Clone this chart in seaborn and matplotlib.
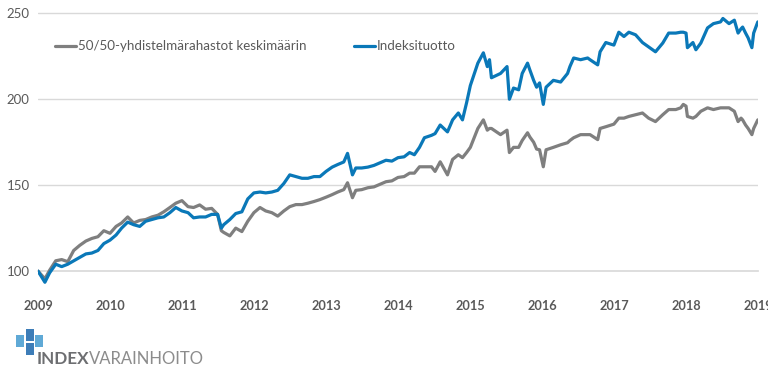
import pandas as pd
import seaborn as sns
import matplotlib.pyplot as plt
import matplotlib.dates as mdates
from matplotlib.patches import Rectangle

# values (index, start = 100)
dates = ['2009-01-01', '2009-02-05', '2009-03-01', '2009-04-01', '2009-05-01', '2009-06-01',
         '2009-07-01', '2009-08-01', '2009-09-01', '2009-10-01', '2009-11-01', '2009-12-01',
         '2010-01-01', '2010-02-01', '2010-03-01', '2010-04-01', '2010-05-01', '2010-06-01',
         '2010-07-01', '2010-08-01', '2010-09-01', '2010-10-01', '2010-11-01', '2010-12-01',
         '2011-01-01', '2011-02-01', '2011-03-01', '2011-04-01', '2011-05-01', '2011-06-01',
         '2011-07-01', '2011-07-20', '2011-08-01', '2011-09-01', '2011-10-01', '2011-11-01',
         '2011-12-01', '2012-01-01', '2012-02-01', '2012-03-01', '2012-04-01', '2012-05-01',
         '2012-06-01', '2012-07-01', '2012-08-01', '2012-09-01', '2012-10-01', '2012-11-01',
         '2012-12-01', '2013-01-01', '2013-02-01', '2013-03-01', '2013-04-01', '2013-04-20',
         '2013-05-15', '2013-06-01', '2013-07-01', '2013-08-01', '2013-09-01', '2013-10-01',
         '2013-11-01', '2013-12-01', '2014-01-01', '2014-02-01', '2014-03-01', '2014-03-25',
         '2014-04-20', '2014-05-15', '2014-06-20', '2014-07-08', '2014-08-03', '2014-09-09',
         '2014-10-05', '2014-11-03', '2014-11-24', '2014-12-15', '2015-01-03', '2015-02-10',
         '2015-03-10', '2015-03-30', '2015-04-10', '2015-04-20', '2015-06-05', '2015-07-08',
         '2015-07-20', '2015-08-10', '2015-09-05', '2015-09-23', '2015-10-20', '2015-11-01',
         '2015-11-20', '2015-12-05', '2015-12-20', '2016-01-08', '2016-01-22', '2016-02-28',
         '2016-04-05', '2016-05-10', '2016-05-22', '2016-06-10', '2016-07-15', '2016-08-20',
         '2016-09-01', '2016-10-10', '2016-10-22', '2016-11-20', '2016-12-31', '2017-01-25',
         '2017-02-20', '2017-03-17', '2017-04-20', '2017-05-25', '2017-06-25', '2017-07-30',
         '2017-09-05', '2017-10-05', '2017-11-10', '2017-12-05', '2017-12-18', '2018-01-01',
         '2018-01-08', '2018-02-05', '2018-02-20', '2018-03-17', '2018-04-20', '2018-05-20',
         '2018-06-25', '2018-07-07', '2018-08-07', '2018-09-03', '2018-09-22', '2018-10-07',
         '2018-10-15', '2018-10-30', '2018-11-12', '2018-12-01', '2018-12-10', '2018-12-31']

index_return = [100, 93.5, 99, 104, 102.6, 104,
                106, 108, 110, 110.5, 112, 116,
                118, 121, 125, 128.5, 127, 126,
                129, 130, 131, 131.5, 134, 137,
                135, 134, 131, 131.5, 131.5, 133,
                133, 125, 127, 130, 133.5, 134.5,
                142, 145.5, 146, 145.5, 146, 147,
                151, 156, 155, 154, 154, 155,
                155, 158, 160.5, 162, 163.5, 168.5,
                156, 160, 160, 160.5, 161.5, 163,
                164.5, 164, 166, 166.5, 169, 167.7,
                172, 177.6, 179, 180, 185, 181,
                188, 192, 188, 198, 208, 221,
                227, 219, 223, 212.5, 215, 219,
                200, 206.5, 205.5, 215, 221, 217,
                211, 207, 209.5, 197, 207, 211,
                210, 215, 219, 224, 223, 224,
                223, 220, 227.6, 233, 231.5, 239,
                236.5, 239, 237.5, 233, 230.5, 227.6,
                232.7, 238.5, 238.5, 239, 239, 238.5,
                230, 233, 228.8, 232.7, 241.5, 244,
                245, 247, 244, 246, 238.5, 241,
                242, 238.5, 235.7, 230, 238.5, 245]

balanced_funds = [100, 95.5, 100.5, 106, 106.7, 105.5,
                  112, 115, 117.5, 119, 120, 123.5,
                  122, 126, 128, 131.5, 128, 129.5,
                  130, 131.5, 132.5, 134.5, 137, 139.5,
                  141, 137.5, 137, 138.5, 136, 136.5,
                  133, 123.5, 122.5, 120.5, 125, 123,
                  129, 134, 137, 135, 134, 132,
                  135, 137.5, 138.7, 138.7, 139.5, 140.5,
                  141.6, 143, 144.5, 146, 147.4, 151.4,
                  142.7, 147, 147.4, 148.5, 149, 150.5,
                  152, 152.5, 154.5, 155, 157, 157,
                  160.7, 160.7, 160.7, 158, 163.6, 156,
                  165, 167.7, 166, 169, 172, 183,
                  188, 182, 183, 183, 179.4, 182,
                  169, 172, 172, 176, 180.5, 178,
                  175, 171, 170.6, 160.7, 170.6, 172,
                  173.5, 174.7, 176, 177.6, 179.4, 179.4,
                  179.4, 176.5, 183, 184, 185.5, 189,
                  189, 190, 191, 192, 189, 187,
                  191, 194, 194, 195, 197, 196,
                  190, 189, 190, 193, 195, 194,
                  195, 195, 195, 193, 187, 189,
                  188, 185, 183, 179.4, 183, 188]

series_names = ['50/50-yhdistelmärahastot keskimäärin', 'Indeksituotto']
series_colors = ['#7f7f7f', '#0a78b8']
year_ticks = list(range(2009, 2020))
y_ticks = [100, 150, 200, 250]

df = pd.DataFrame({'date': pd.to_datetime(dates),
                   series_names[0]: balanced_funds,
                   series_names[1]: index_return})
df_long = df.melt(id_vars='date', var_name='series', value_name='value')

sns.set_theme(style='white')
plt.rcParams['font.family'] = ['Lato', 'DejaVu Sans']

fig = plt.figure(figsize=(7.68, 3.76), dpi=100)
ax = fig.add_axes([38 / 768, 86 / 376, 720 / 768, 287 / 376])

sns.lineplot(data=df_long, x='date', y='value', hue='series',
             hue_order=series_names, palette=dict(zip(series_names, series_colors)),
             linewidth=2.3, ax=ax)

ax.set_xlim(pd.Timestamp('2009-01-01'), pd.Timestamp('2019-01-01'))
ax.set_ylim(89, 256)
ax.set_yticks(y_ticks)
ax.set_xticks([pd.Timestamp(f'{y}-01-01') for y in year_ticks])
ax.xaxis.set_major_formatter(mdates.DateFormatter('%Y'))
ax.set_xlabel('')
ax.set_ylabel('')

# gridlines for y, x axis sits at 100 like the excel chart
for v in y_ticks[1:]:
    ax.axhline(v, color='#d9d9d9', lw=1, zorder=0)
for s in ['top', 'right', 'left']:
    ax.spines[s].set_visible(False)
ax.spines['bottom'].set_position(('data', 100))
ax.spines['bottom'].set_color('#d9d9d9')
ax.spines['bottom'].set_zorder(0)

ax.tick_params(axis='y', length=0, pad=6, labelsize=9.5, labelcolor='#595959')
ax.tick_params(axis='x', length=4, color='#d9d9d9', direction='out', pad=17,
               labelsize=9.2, labelcolor='#595959')
for lab in ax.get_xticklabels():
    lab.set_fontweight('bold')

ax.legend(loc='upper left', bbox_to_anchor=(17 / 720, 0.87), ncol=2, frameon=False,
          handlelength=1.6, handletextpad=0.15, columnspacing=3.5, borderpad=0,
          borderaxespad=0, fontsize=9.6, labelcolor='#595959')

# logo, bottom left
for (x, y, c) in [(16, 335, '#5fa9d6'), (26, 329, '#3d7db8'), (26, 343, '#3d7db8'), (35, 335, '#5fa9d6')]:
    fig.add_artist(Rectangle((x / 768, 1 - (y + 11.5) / 376), 7.5 / 768, 11.5 / 376,
                             transform=fig.transFigure, color=c, lw=0))
fig.text(37 / 768, 1 - 364 / 376, 'INDEX', fontsize=12.3, fontweight='bold',
         color='#6d6e71', va='baseline', ha='left')
fig.text(89 / 768, 1 - 364 / 376, 'VARAINHOITO', fontsize=12, fontweight='normal',
         color='#8c8c8c', va='baseline', ha='left')

fig.savefig('out.png', dpi=100)
